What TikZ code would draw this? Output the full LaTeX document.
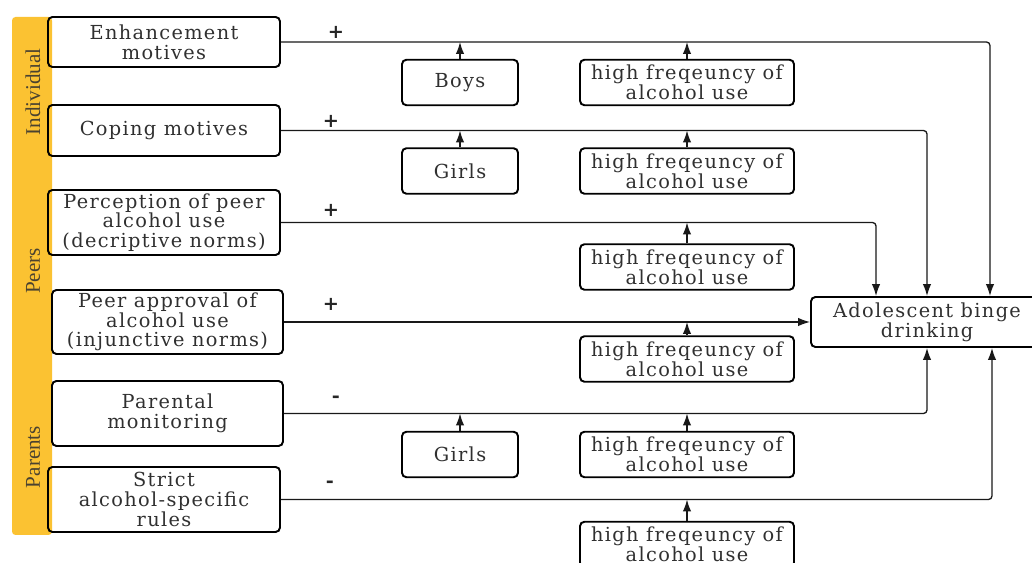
\documentclass[tikz,border=0pt]{standalone}
\usepackage{fontspec}
\setmainfont{DejaVu Serif}[LetterSpace=7]
\newfontfamily\sidefont{Liberation Serif}
\usetikzlibrary{arrows.meta}
\definecolor{barYellow}{HTML}{FBC232}
\definecolor{txtGray}{HTML}{303030}
\definecolor{sideGray}{HTML}{4A4230}

\begin{document}
\begin{tikzpicture}[x=0.02cm,y=-0.02cm]
    \tikzstyle{factor}=[draw, line width=1.1pt, rounded corners=2.5pt, align=center,
                        text=txtGray, font=\fontsize{11}{11.2}\selectfont, inner sep=0pt]
    \tikzstyle{wide}=[factor, minimum width=4.64cm]
    \tikzstyle{mod}=[factor, minimum height=0.91cm]
    \tikzstyle{conn}=[draw=black!90, line width=0.75pt, rounded corners=2pt,
                      -{Latex[length=0.24cm,width=0.17cm]}]
    \tikzstyle{sign}=[font=\bfseries\fontsize{11}{11}\selectfont, text=black!85]
    \tikzstyle{level}=[rotate=90, text=sideGray, font=\sidefont\fontsize{12}{12}\selectfont]

    \useasboundingbox (0,0) rectangle (1032,563);

    % coloured band with the three levels
    \fill[barYellow, rounded corners=2pt] (12,17) rectangle (52,535);
    \node[level] (ind) at (33,92) {Individual};
    \node[level] (peer) at (33,271) {Peers};
    \node[level] (par) at (33,457) {Parents};

    % predictors
    \node[wide, minimum height=1.0cm] (enh) at (164,42) {Enhancement\\motives};
    \node[wide, minimum height=1.02cm] (cop) at (164,130.5) {Coping motives};
    \node[wide, minimum height=1.3cm] (perc) at (164,222.5)
        {Perception of peer\\alcohol use\\(decriptive norms)};
    \node[wide, minimum width=4.62cm, minimum height=1.28cm] (appr) at (167.5,322)
        {Peer approval of\\alcohol use\\(injunctive norms)};
    \node[wide, minimum width=4.62cm, minimum height=1.3cm] (mon) at (167.5,413.5)
        {Parental\\monitoring};
    \node[wide, minimum height=1.3cm] (rules) at (164,499.5)
        {Strict\\alcohol-specific\\rules};

    % outcome
    \node[wide, minimum height=1.0cm] (abd) at (927,322) {Adolescent binge\\drinking};

    % moderators
    \node[mod, minimum width=2.32cm] (boys) at (460,82.5) {Boys};
    \node[mod, minimum width=4.28cm] (hfa) at (687,82.5) {high freqeuncy of\\alcohol use};
    \node[mod, minimum width=2.32cm] (girlsa) at (460,171) {Girls};
    \node[mod, minimum width=4.28cm] (hfb) at (687,171) {high freqeuncy of\\alcohol use};
    \node[mod, minimum width=4.28cm] (hfc) at (687,267) {high freqeuncy of\\alcohol use};
    \node[mod, minimum width=4.28cm] (hfd) at (687,359) {high freqeuncy of\\alcohol use};
    \node[mod, minimum width=2.32cm] (girlsb) at (460,454.5) {Girls};
    \node[mod, minimum width=4.28cm] (hfe) at (687,454.5) {high freqeuncy of\\alcohol use};
    \node[mod, minimum width=4.28cm] (hff) at (687,544.5) {high freqeuncy of\\alcohol use};

    % main paths
    \draw[conn] (enh.east) -| ([xshift=1.26cm]abd.north);
    \draw[conn] (cop.east) -| (abd.north);
    \draw[conn] (perc.east) -| ([xshift=-1.02cm]abd.north);
    \draw[conn] (appr.east) -- (abd.west);
    \draw[conn] (mon.east) -| (abd.south);
    \draw[conn] (rules.east) -| ([xshift=1.3cm]abd.south);

    % moderation arrows
    \draw[conn] (boys.north) -- (boys.north |- enh.east);
    \draw[conn] (hfa.north) -- (hfa.north |- enh.east);
    \draw[conn] (girlsa.north) -- (girlsa.north |- cop.east);
    \draw[conn] (hfb.north) -- (hfb.north |- cop.east);
    \draw[conn] (hfc.north) -- (hfc.north |- perc.east);
    \draw[conn] (hfd.north) -- (hfd.north |- appr.east);
    \draw[conn] (girlsb.north) -- (girlsb.north |- mon.east);
    \draw[conn] (hfe.north) -- (hfe.north |- mon.east);
    \draw[conn] (hff.north) -- (hff.north |- rules.east);

    % signs
    \node[sign] (s1) at (336,32) {+};
    \node[sign] (s2) at (331,121) {+};
    \node[sign] (s3) at (331,210) {+};
    \node[sign] (s4) at (331,304) {+};
    \node[sign] (s5) at (336,399) {-};
    \node[sign] (s6) at (330,484) {-};
\end{tikzpicture}
\end{document}
